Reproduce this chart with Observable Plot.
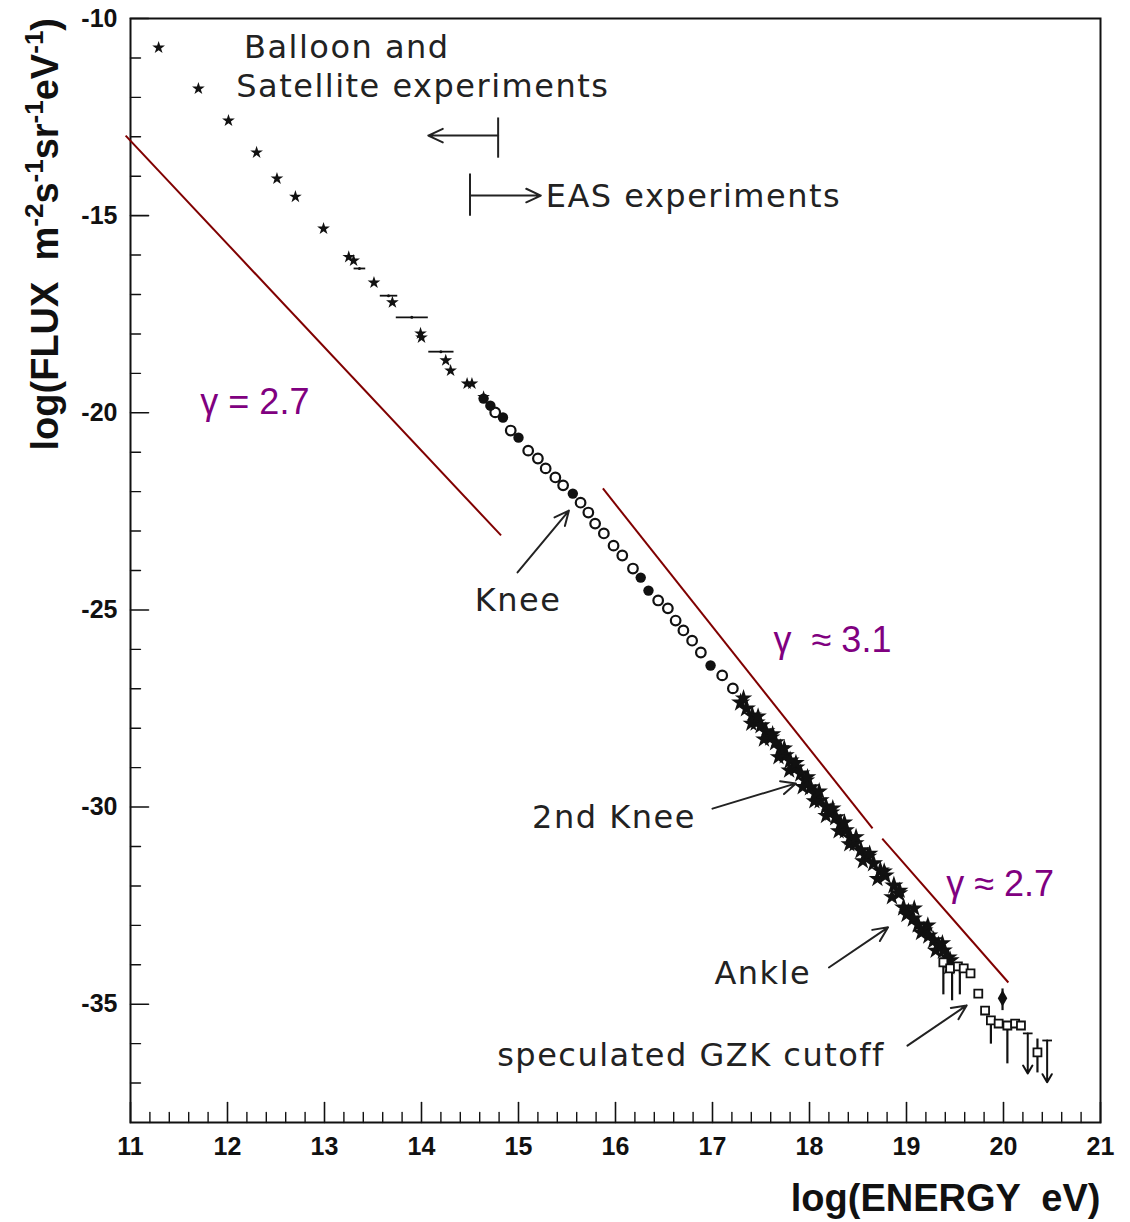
<!DOCTYPE html>
<html><head><meta charset="utf-8">
<script src="https://cdn.jsdelivr.net/npm/d3@7"></script>
<script src="https://cdn.jsdelivr.net/npm/@observablehq/plot@0.6"></script>
<style>body{margin:0;background:#fff} .ann text{letter-spacing:1.5px}</style>
</head><body><div id="chart"></div>
<script>
// ---- axis ticks ----
const xMajor = [11,12,13,14,15,16,17,18,19,20,21];
const xMinor = d3.range(11, 21.0001, 0.2).map(v => +v.toFixed(1)).filter(v => !Number.isInteger(v));
const yMajor = [-10,-15,-20,-25,-30,-35];
const yMinor = [-11,-12,-13,-14,-16,-17,-18,-19,-21,-22,-23,-24,-26,-27,-28,-29,-31,-32,-33,-34,-36,-37];

// ---- balloon & satellite (stars) ----
const starE = [11.29, 11.70, 12.01, 12.30, 12.51, 12.70, 12.99, 13.25, 13.30, 13.51, 13.70, 13.99, 14.00, 14.25, 14.30, 14.47, 14.52, 14.64];
const starF = [-10.74, -11.78, -12.59, -13.40, -14.06, -14.52, -15.33, -16.05, -16.14, -16.70, -17.20, -17.99, -18.09, -18.67, -18.93, -19.26, -19.26, -19.60];

// ---- binned points with horizontal bars ----
const binE = [13.36, 13.66, 13.90, 14.20];
const binHalf = [0.06, 0.09, 0.165, 0.13];
const binF = [-16.34, -17.03, -17.58, -18.45];

// ---- knee region circles ----
const openE = [14.76, 14.92, 15.10, 15.20, 15.28, 15.38, 15.46, 15.64, 15.72, 15.79, 15.88, 15.98, 16.07, 16.18, 16.44, 16.54, 16.62, 16.70, 16.79, 16.88, 17.10, 17.21];
const openF = [-19.99, -20.45, -20.96, -21.16, -21.41, -21.64, -21.84, -22.28, -22.53, -22.81, -23.06, -23.37, -23.62, -23.95, -24.76, -24.96, -25.27, -25.52, -25.78, -26.08, -26.66, -26.99];
const fillE = [14.64, 14.71, 14.84, 15.00, 15.56, 16.26, 16.34, 16.98];
const fillF = [-19.64, -19.82, -20.12, -20.63, -22.05, -24.18, -24.51, -26.41];

// ---- EAS dense cluster (stars) ----
const clusE = [17.29, 17.35, 17.41, 17.45, 17.50, 17.55, 17.60, 17.65, 17.70, 17.75, 17.80, 17.86, 17.91, 17.96, 18.01, 18.06, 18.11, 18.17, 18.22, 18.27, 18.32, 18.37, 18.42, 18.47, 18.53, 18.60, 18.66, 18.73, 18.78, 18.87, 18.92, 18.97, 19.02, 19.07, 19.12, 19.18, 19.23, 19.28, 19.33, 19.38, 19.43, 19.45];
const clusF = [-27.35, -27.50, -27.68, -27.86, -27.93, -28.08, -28.24, -28.36, -28.51, -28.69, -28.82, -29.00, -29.15, -29.33, -29.50, -29.66, -29.83, -29.99, -30.14, -30.26, -30.42, -30.59, -30.77, -30.92, -31.10, -31.26, -31.43, -31.61, -31.74, -31.99, -32.19, -32.55, -32.67, -32.83, -32.98, -33.13, -33.26, -33.38, -33.51, -33.64, -33.82, -33.89];
const clus2E = [17.32, 17.40, 17.47, 17.53, 17.62, 17.68, 17.74, 17.79, 17.86, 17.93, 17.98, 18.05, 18.10, 18.17, 18.24, 18.30, 18.36, 18.41, 18.48, 18.55, 18.62, 18.70, 18.77, 18.85, 18.93, 19.00, 19.08, 19.15, 19.22, 19.30, 19.37, 19.44];
const clus2F = [-27.24, -27.88, -27.70, -28.28, -28.15, -28.73, -28.51, -29.07, -28.88, -29.49, -29.24, -29.85, -29.60, -30.22, -30.03, -30.61, -30.39, -30.94, -30.76, -31.37, -31.18, -31.82, -31.63, -32.28, -32.12, -32.73, -32.57, -33.19, -33.00, -33.64, -33.45, -34.06];

// ---- highest energies: squares, error bars, upper limits ----
const sqE = [19.38, 19.45, 19.53, 19.59, 19.66, 19.74, 19.81, 19.87, 19.95, 20.04, 20.12, 20.18, 20.35];
const sqF = [-33.94, -34.09, -34.04, -34.09, -34.22, -34.73, -35.16, -35.41, -35.49, -35.54, -35.49, -35.54, -36.22];
const errE = [19.38, 19.47, 19.55, 19.87, 19.99, 20.04, 20.35];
const errHi = [-34.00, -34.00, -34.00, -35.40, -34.60, -35.50, -35.87];
const errLo = [-34.75, -34.90, -34.75, -36.00, -35.15, -36.50, -36.73];
const diaE = [19.99];
const diaF = [-34.85];
const ulE = [20.25, 20.45];
const ulTop = [-35.74, -35.92];
const ulBot = [-36.76, -36.98];

// ---- spectral index guide lines ----
const guideX1 = [10.95, 15.87, 18.75];
const guideY1 = [-12.97, -21.92, -30.80];
const guideX2 = [14.82, 18.65, 20.05];
const guideY2 = [-23.11, -30.54, -34.45];

// ---- annotations ----
const noteText = ["Balloon and", "Satellite experiments", "EAS experiments", "Knee", "2nd Knee", "Ankle", "speculated GZK cutoff"];
const noteE = [12.17, 12.09, 15.28, 14.55, 15.14, 17.02, 14.78];
const noteF = [-10.74, -11.73, -14.51, -24.76, -30.26, -34.22, -36.30];
const gammaText = ["γ = 2.7", "γ  ≈ 3.1", "γ ≈ 2.7"];
const gammaE = [11.72, 17.63, 19.41];
const gammaF = [-19.74, -25.78, -31.96];
const arrowX1 = [14.99, 17.00, 18.20, 19.01, 14.79, 14.50];
const arrowY1 = [-24.05, -30.04, -34.07, -36.05, -12.97, -14.49];
const arrowX2 = [15.52, 17.86, 18.81, 19.62, 14.07, 15.23];
const arrowY2 = [-22.48, -29.40, -33.05, -35.03, -12.97, -14.49];
const barE = [14.79, 14.50];
const barTop = [-12.51, -13.93];
const barBot = [-13.53, -15.00];

const idx = a => a.map((_, i) => i);
const tickShape = {draw(ctx, l) { ctx.moveTo(0, 0); ctx.lineTo(0, -l); }};
const ink = "#111";
const annFont = "DejaVu Sans";

const plot = Plot.plot({
  width: 1130, height: 1222,
  marginLeft: 130, marginRight: 30, marginTop: 18, marginBottom: 100,
  style: {fontFamily: "Liberation Sans", background: "#fff", color: ink},
  x: {domain: [11, 21]},
  y: {domain: [-38, -10]},
  marks: [
    Plot.axisX({ticks: xMajor, tickSize: 0, tickPadding: 15, fontSize: 25, fontWeight: "bold", tickFormat: d => String(d), label: null}),
    Plot.axisY({ticks: yMajor, tickSize: 0, tickPadding: 13, fontSize: 25, fontWeight: "bold", tickFormat: d => String(d), label: null}),
    Plot.vector(xMajor, {x: d => d, frameAnchor: "bottom", length: 20, rotate: 0, anchor: "start", shape: tickShape, stroke: ink, strokeWidth: 1.6}),
    Plot.vector(xMinor, {x: d => d, frameAnchor: "bottom", length: 10, rotate: 0, anchor: "start", shape: tickShape, stroke: ink, strokeWidth: 1.4}),
    Plot.vector(yMajor, {y: d => d, frameAnchor: "left", length: 18, rotate: 90, anchor: "start", shape: tickShape, stroke: ink, strokeWidth: 1.6}),
    Plot.vector(yMinor, {y: d => d, frameAnchor: "left", length: 10, rotate: 90, anchor: "start", shape: tickShape, stroke: ink, strokeWidth: 1.4}),
    Plot.frame({stroke: ink, strokeWidth: 2}),
    // guide lines
    Plot.link(idx(guideX1), {x1: i => guideX1[i], y1: i => guideY1[i], x2: i => guideX2[i], y2: i => guideY2[i], stroke: "#800000", strokeWidth: 2}),
    // data
    Plot.dot(idx(starE), {x: i => starE[i], y: i => starF[i], symbol: "star", r: 4, fill: ink}),
    Plot.link(idx(binE), {x1: i => binE[i] - binHalf[i], x2: i => binE[i] + binHalf[i], y1: i => binF[i], y2: i => binF[i], stroke: ink, strokeWidth: 1.8}),
    Plot.dot(idx(binE), {x: i => binE[i], y: i => binF[i], r: 1.5, fill: ink}),
    Plot.dot(idx(openE), {x: i => openE[i], y: i => openF[i], symbol: "circle", r: 4.8, stroke: ink, strokeWidth: 2.2, fill: "#fff"}),
    Plot.dot(idx(fillE), {x: i => fillE[i], y: i => fillF[i], symbol: "circle", r: 5.2, fill: ink}),
    Plot.dot(idx(clusE), {x: i => clusE[i], y: i => clusF[i], symbol: "star", r: 6, fill: ink}),
    Plot.dot(idx(clus2E), {x: i => clus2E[i], y: i => clus2F[i], symbol: "star", r: 5.5, fill: ink}),
    Plot.link(idx(errE), {x1: i => errE[i], x2: i => errE[i], y1: i => errHi[i], y2: i => errLo[i], stroke: ink, strokeWidth: 2.2}),
    Plot.dot(idx(sqE), {x: i => sqE[i], y: i => sqF[i], symbol: "square", r: 4.5, stroke: ink, strokeWidth: 1.8, fill: "#fff"}),
    Plot.dot(idx(diaE), {x: i => diaE[i], y: i => diaF[i], symbol: "diamond", r: 5, fill: ink}),
    Plot.arrow(idx(ulE), {x1: i => ulE[i], x2: i => ulE[i], y1: i => ulTop[i], y2: i => ulBot[i], stroke: ink, strokeWidth: 2, headLength: 7}),
    Plot.link(idx(ulE), {x1: i => ulE[i] - 0.05, x2: i => ulE[i] + 0.05, y1: i => ulTop[i], y2: i => ulTop[i], stroke: ink, strokeWidth: 1.8}),
    // annotations
    Plot.arrow(idx(arrowX1), {x1: i => arrowX1[i], y1: i => arrowY1[i], x2: i => arrowX2[i], y2: i => arrowY2[i], stroke: "#222", strokeWidth: 2, headLength: 12, headAngle: 50}),
    Plot.link(idx(barE), {x1: i => barE[i], x2: i => barE[i], y1: i => barTop[i], y2: i => barBot[i], stroke: "#222", strokeWidth: 2}),
    Plot.text(idx(noteText), {x: i => noteE[i], y: i => noteF[i], text: i => noteText[i], textAnchor: "start", lineAnchor: "middle", fontSize: 32, fontFamily: annFont, fill: "#222", className: "ann"}),
    Plot.text(idx(gammaText), {x: i => gammaE[i], y: i => gammaF[i], text: i => gammaText[i], textAnchor: "start", lineAnchor: "middle", fontSize: 36, fontFamily: "Liberation Sans", fill: "#800080"}),
    Plot.text(["log(ENERGY  eV)"], {frameAnchor: "bottom-right", text: d => d, textAnchor: "end", lineAnchor: "middle", dy: 76, fontSize: 38, fontWeight: "bold", fill: ink})
  ]
});

const svg = d3.select(plot);
svg.selectAll("text").style("white-space", "pre");
const yScale = plot.scale("y");
const yt = svg.append("text")
  .attr("transform", `translate(58,${yScale.range[1]}) rotate(-90)`)
  .attr("text-anchor", "end")
  .attr("font-family", "Liberation Sans")
  .attr("font-weight", "bold")
  .attr("font-size", 38)
  .attr("fill", ink)
  .style("white-space", "pre");
const parts = [["log(FLUX  m", ""], ["", "-2"], ["s", ""], ["", "-1"], ["sr", ""], ["", "-1"], ["eV", ""], ["", "-1"], [")", ""]];
let raised = false;
for (const [base, sup] of parts) {
  if (base) { yt.append("tspan").attr("dy", raised ? 15 : 0).text(base); raised = false; }
  if (sup) { yt.append("tspan").attr("dy", raised ? 0 : -15).attr("font-size", 26).text(sup); raised = true; }
}
document.getElementById("chart").appendChild(plot);
</script>
</body></html>
